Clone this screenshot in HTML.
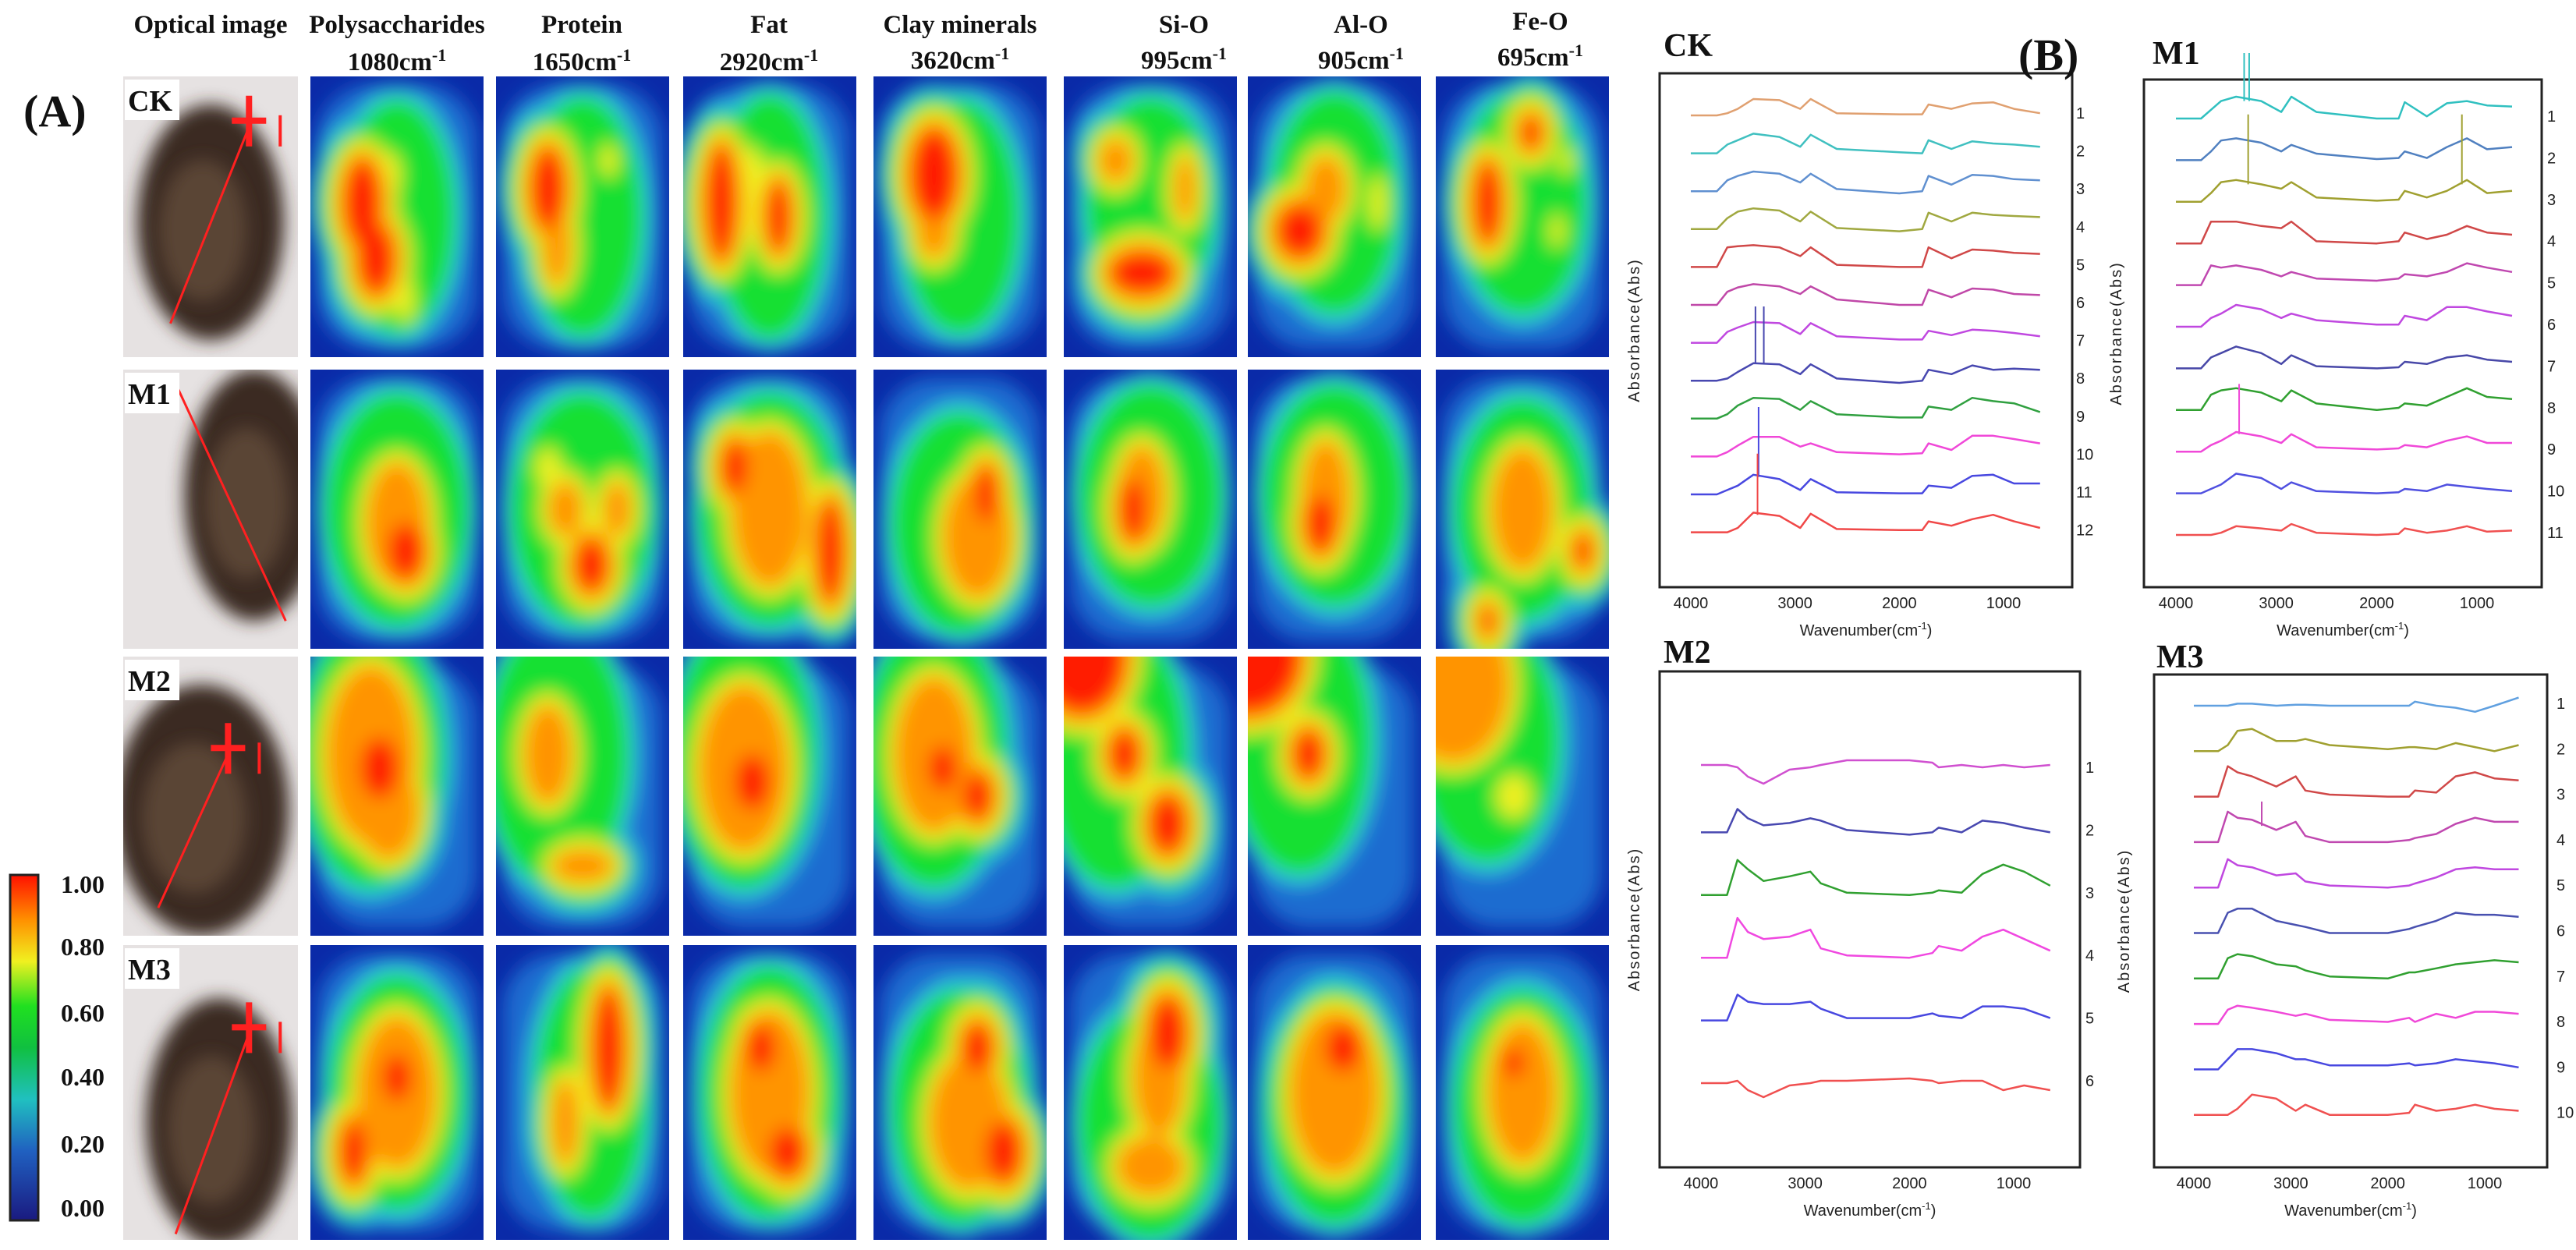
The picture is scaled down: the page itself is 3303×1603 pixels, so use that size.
<!DOCTYPE html>
<html><head><meta charset="utf-8"><style>
html,body{margin:0;padding:0;background:#fff;width:3303px;height:1603px;overflow:hidden}
svg{display:block;overflow:hidden}
.hd{font-family:"Liberation Serif",serif;font-weight:bold;font-size:33px;fill:#111}
.ttl{font-family:"Liberation Serif",serif;font-weight:bold;fill:#111}
.ax{font-family:"Liberation Sans",sans-serif;font-size:20px;fill:#222}
</style></head><body>
<svg id="fig" width="3303" height="1603" viewBox="0 0 3303 1603" xmlns="http://www.w3.org/2000/svg">
<defs>
<filter id="blur" x="-30%" y="-30%" width="160%" height="160%"><feGaussianBlur stdDeviation="11"/></filter>
<filter id="blur2" x="-30%" y="-30%" width="160%" height="160%"><feGaussianBlur stdDeviation="12"/></filter>
<linearGradient id="cbar" x1="0" y1="1" x2="0" y2="0">
<stop offset="0" stop-color="#1a1a80"/><stop offset="0.2" stop-color="#2060c0"/><stop offset="0.35" stop-color="#20c0c0"/><stop offset="0.5" stop-color="#10c040"/><stop offset="0.62" stop-color="#20e020"/><stop offset="0.75" stop-color="#f0f020"/><stop offset="0.87" stop-color="#ff9000"/><stop offset="1" stop-color="#ff1000"/>
</linearGradient>
</defs>
<text class="ttl" x="30" y="162" font-size="58">(A)</text>
<g>
<text class="hd" x="270" y="42" text-anchor="middle">Optical image</text>
<text class="hd" x="509" y="42" text-anchor="middle">Polysaccharides</text>
<text class="hd" x="509" y="90" text-anchor="middle">1080cm<tspan dy="-12" font-size="22">-1</tspan></text>
<text class="hd" x="746" y="42" text-anchor="middle">Protein</text>
<text class="hd" x="746" y="90" text-anchor="middle">1650cm<tspan dy="-12" font-size="22">-1</tspan></text>
<text class="hd" x="986" y="42" text-anchor="middle">Fat</text>
<text class="hd" x="986" y="90" text-anchor="middle">2920cm<tspan dy="-12" font-size="22">-1</tspan></text>
<text class="hd" x="1231" y="42" text-anchor="middle">Clay minerals</text>
<text class="hd" x="1231" y="88" text-anchor="middle">3620cm<tspan dy="-12" font-size="22">-1</tspan></text>
<text class="hd" x="1518" y="42" text-anchor="middle">Si-O</text>
<text class="hd" x="1518" y="88" text-anchor="middle">995cm<tspan dy="-12" font-size="22">-1</tspan></text>
<text class="hd" x="1745" y="42" text-anchor="middle">Al-O</text>
<text class="hd" x="1745" y="88" text-anchor="middle">905cm<tspan dy="-12" font-size="22">-1</tspan></text>
<text class="hd" x="1975" y="38" text-anchor="middle">Fe-O</text>
<text class="hd" x="1975" y="84" text-anchor="middle">695cm<tspan dy="-12" font-size="22">-1</tspan></text>
</g>
<g>
<rect x="13" y="1122" width="36" height="443" fill="url(#cbar)" stroke="#222" stroke-width="3"/>
<text class="ttl" x="78" y="1145" font-size="32" font-weight="normal">1.00</text>
<text class="ttl" x="78" y="1225" font-size="32" font-weight="normal">0.80</text>
<text class="ttl" x="78" y="1310" font-size="32" font-weight="normal">0.60</text>
<text class="ttl" x="78" y="1392" font-size="32" font-weight="normal">0.40</text>
<text class="ttl" x="78" y="1478" font-size="32" font-weight="normal">0.20</text>
<text class="ttl" x="78" y="1560" font-size="32" font-weight="normal">0.00</text>
</g>
<g id="maps"></g>
<g id="spectra"></g>
<text class="ttl" x="2588" y="90" font-size="58">(B)</text>
</svg>
<script>
const NS='http://www.w3.org/2000/svg';
function mk(tag,attrs,parent){const e=document.createElementNS(NS,tag);for(const k in attrs)e.setAttribute(k,attrs[k]);parent.appendChild(e);return e;}

// ---------- Panel A data ----------
const samples=['CK','M1','M2','M3'];
const components=['polysaccharides','protein','fat','clay-minerals','si-o','al-o','fe-o'];
// colour levels: 1 cyan, 2 green, 3 yellow, 4 orange, 5 red
const levelColors=['#30c8e0','#18e030','#f0f020','#ff9400','#ff1a00'];
// blobs: [cx, cy, rx, ry, level(1..5)] in fractions of the cell
const blobsCK=[
[[0.5,0.5,0.34,0.42,2],[0.3,0.45,0.1,0.15,5],[0.38,0.65,0.1,0.12,5],[0.45,0.35,0.07,0.08,3],[0.55,0.8,0.05,0.08,3]],
[[0.5,0.5,0.35,0.43,2],[0.3,0.4,0.09,0.14,5],[0.35,0.6,0.08,0.15,4],[0.65,0.3,0.05,0.06,3]],
[[0.5,0.5,0.33,0.44,2],[0.22,0.45,0.08,0.2,5],[0.4,0.35,0.06,0.1,3],[0.55,0.5,0.06,0.12,5]],
[[0.5,0.5,0.35,0.42,2],[0.35,0.35,0.13,0.16,5],[0.35,0.55,0.1,0.1,4]],
[[0.5,0.45,0.38,0.38,2],[0.3,0.3,0.1,0.08,4],[0.45,0.7,0.18,0.07,5],[0.7,0.4,0.06,0.12,4]],
[[0.5,0.45,0.38,0.4,2],[0.3,0.55,0.13,0.09,5],[0.45,0.4,0.12,0.12,4],[0.75,0.45,0.05,0.1,3]],
[[0.5,0.45,0.38,0.4,2],[0.3,0.45,0.07,0.14,5],[0.55,0.2,0.05,0.05,5],[0.75,0.3,0.04,0.05,3],[0.7,0.55,0.04,0.06,3]]];
const blobsM1=[
[[0.5,0.5,0.42,0.42,2],[0.5,0.55,0.18,0.22,4],[0.55,0.65,0.1,0.1,5]],
[[0.5,0.5,0.42,0.42,2],[0.4,0.5,0.1,0.1,4],[0.55,0.7,0.09,0.09,5],[0.3,0.35,0.07,0.07,3],[0.7,0.5,0.08,0.1,4]],
[[0.5,0.5,0.42,0.42,2],[0.5,0.5,0.22,0.28,4],[0.85,0.65,0.07,0.18,5],[0.3,0.35,0.07,0.09,5]],
[[0.5,0.55,0.4,0.4,2],[0.6,0.6,0.2,0.22,4],[0.65,0.45,0.06,0.1,5]],
[[0.5,0.45,0.42,0.4,2],[0.45,0.45,0.14,0.18,4],[0.4,0.5,0.07,0.11,5]],
[[0.5,0.45,0.42,0.4,2],[0.45,0.45,0.14,0.2,4],[0.42,0.55,0.08,0.1,5]],
[[0.5,0.5,0.4,0.4,2],[0.5,0.5,0.18,0.22,4],[0.85,0.65,0.04,0.05,5],[0.3,0.9,0.03,0.04,5]]];
const blobsM2=[
[[0.35,0.35,0.42,0.48,2],[0.35,0.35,0.26,0.32,4],[0.45,0.55,0.18,0.18,4],[0.4,0.4,0.11,0.11,5]],
[[0.35,0.35,0.42,0.48,2],[0.3,0.35,0.14,0.18,4],[0.5,0.75,0.18,0.06,4]],
[[0.35,0.35,0.42,0.48,2],[0.35,0.4,0.26,0.3,4],[0.4,0.45,0.1,0.1,5]],
[[0.35,0.35,0.42,0.48,2],[0.35,0.35,0.23,0.28,4],[0.4,0.4,0.08,0.08,5],[0.6,0.5,0.08,0.08,5]],
[[0.3,0.35,0.42,0.48,2],[0.1,0.0,0.25,0.2,5],[0.35,0.35,0.08,0.08,5],[0.6,0.6,0.1,0.1,5]],
[[0.3,0.3,0.42,0.48,2],[0.0,0.0,0.3,0.2,5],[0.35,0.35,0.08,0.08,5]],
[[0.3,0.3,0.42,0.44,2],[0.1,0.1,0.33,0.28,4],[0.45,0.5,0.1,0.08,3]]];
const blobsM3=[
[[0.5,0.5,0.4,0.4,2],[0.5,0.5,0.23,0.26,4],[0.5,0.45,0.08,0.08,5],[0.25,0.7,0.07,0.1,5]],
[[0.55,0.5,0.33,0.43,2],[0.65,0.35,0.08,0.2,5],[0.4,0.6,0.08,0.15,4]],
[[0.5,0.5,0.4,0.43,2],[0.5,0.5,0.23,0.28,4],[0.45,0.35,0.08,0.08,5],[0.6,0.7,0.1,0.08,5]],
[[0.5,0.55,0.4,0.4,2],[0.55,0.6,0.23,0.23,4],[0.6,0.35,0.08,0.08,5],[0.75,0.7,0.1,0.1,5]],
[[0.5,0.6,0.42,0.4,2],[0.55,0.45,0.15,0.2,4],[0.6,0.3,0.1,0.12,5],[0.5,0.75,0.2,0.1,4]],
[[0.5,0.55,0.4,0.4,2],[0.5,0.5,0.26,0.28,4],[0.55,0.35,0.1,0.08,5]],
[[0.5,0.55,0.4,0.4,2],[0.5,0.5,0.2,0.24,4],[0.45,0.4,0.06,0.05,5]]];
const allBlobs=[blobsCK,blobsM1,blobsM2,blobsM3];

const colX=[398,636,876,1120,1364,1600,1841];
const cellW=222;
const rowY=[98,474,842,1212];
const rowH=[360,358,358,378];
const optX=158, optW=224;
const optLines=[[0.72,0.18,0.27,0.88],[0.3,0.05,0.93,0.9],[0.6,0.35,0.2,0.9],[0.72,0.3,0.3,0.98]];
const optBodies=[[0.5,0.52,0.42,0.42],[0.75,0.45,0.4,0.45],[0.45,0.55,0.5,0.45],[0.55,0.6,0.42,0.42]];

const maps=document.getElementById('maps');
samples.forEach((s,r)=>{
  const y=rowY[r],h=rowH[r];
  const og=mk('g',{},maps);
  
  
  const cpo=mk('clipPath',{id:'co'+r},og);mk('rect',{x:optX,y:y,width:optW,height:h},cpo);
  const oin=mk('g',{'clip-path':'url(#co'+r+')'},og);
  mk('rect',{x:optX,y:y,width:optW,height:h,fill:'#e6e2e2'},oin);
  const b=optBodies[r];
  mk('ellipse',{cx:optX+b[0]*optW,cy:y+b[1]*h,rx:b[2]*optW,ry:b[3]*h,fill:'#3b2c22',filter:'url(#blur)'},oin);
  mk('ellipse',{cx:optX+b[0]*optW-10,cy:y+b[1]*h+10,rx:b[2]*optW*0.6,ry:b[3]*h*0.6,fill:'#5a4535',filter:'url(#blur)'},oin);
  const L=optLines[r];
  mk('line',{x1:optX+L[0]*optW,y1:y+L[1]*h,x2:optX+L[2]*optW,y2:y+L[3]*h,stroke:'#ff2020','stroke-width':3},oin);
  const cx=optX+L[0]*optW, cy=y+L[1]*h;
  if(r!==1){
    mk('line',{x1:cx-22,y1:cy-8,x2:cx+22,y2:cy-8,stroke:'#ff2020','stroke-width':8},oin);
    mk('line',{x1:cx,y1:cy-40,x2:cx,y2:cy+25,stroke:'#ff2020','stroke-width':8},oin);
    mk('line',{x1:cx+40,y1:cy-15,x2:cx+40,y2:cy+25,stroke:'#ff2020','stroke-width':4},oin);
  }
  mk('rect',{x:optX+2,y:y+4,width:70,height:52,fill:'#fff'},oin);
  const lt=mk('text',{x:optX+6,y:y+44,class:'ttl','font-size':38},og);
  lt.textContent=s;
  
  
  components.forEach((c,k)=>{
    const x=colX[k];
    const g=mk('g',{},maps);
    
    
    const cp=mk('clipPath',{id:'c'+r+'_'+k},g);mk('rect',{x:x,y:y,width:cellW,height:h},cp);
    const inner=mk('g',{'clip-path':'url(#c'+r+'_'+k+')'},g);
    mk('rect',{x:x,y:y,width:cellW,height:h,fill:'#0a2aa8'},inner);
    const bg=mk('g',{filter:'url(#blur2)'},inner);
    mk('rect',{x:x+cellW*0.04,y:y+h*0.03,width:cellW*0.92,height:h*0.94,rx:70,fill:'#1a6cd0'},bg);
    const blobs=allBlobs[r][k];
    for(let lev=1;lev<=5;lev++){
      blobs.forEach(bl=>{
        if(bl[4]<lev)return;
        const ext=(bl[4]-lev)*0.05;
        mk('ellipse',{cx:x+bl[0]*cellW,cy:y+bl[1]*h,rx:(bl[2]+ext)*cellW,ry:(bl[3]+ext*0.8)*h,fill:levelColors[lev-1]},bg);
      });
    }
  });
});

// ---------- Panel B data ----------
const wavenumbers=[4000,3750,3650,3550,3400,3150,2950,2850,2600,2000,1780,1720,1500,1300,1100,900,650];
const xTicks=[4000,3000,2000,1000];
const specCK=[
[0,0,0.1,0.3,0.75,0.7,0.3,0.75,0.1,0.05,0.05,0.5,0.3,0.55,0.6,0.3,0.1],
[0,0,0.4,0.6,0.9,0.75,0.3,0.85,0.2,0.05,0,0.6,0.2,0.55,0.45,0.4,0.3],
[0,0,0.5,0.7,0.9,0.8,0.4,0.8,0.1,-0.1,0,0.7,0.3,0.75,0.7,0.55,0.5],
[0,0,0.5,0.8,0.95,0.85,0.35,0.8,0.05,-0.1,0,0.75,0.35,0.75,0.65,0.6,0.55],
[0,0,0.9,0.95,1.0,0.9,0.5,0.9,0.1,0,0,0.9,0.4,0.8,0.75,0.65,0.6],
[0,0,0.6,0.8,0.95,0.85,0.5,0.85,0.25,0,0,0.7,0.35,0.75,0.7,0.5,0.45],
[0,0,0.5,0.7,0.95,0.9,0.4,0.9,0.3,0.15,0.15,0.55,0.35,0.6,0.55,0.45,0.3],
[0,0,0.1,0.4,0.8,0.75,0.3,0.75,0.1,-0.1,0,0.5,0.3,0.7,0.5,0.55,0.5],
[0,0,0.2,0.6,0.95,0.9,0.4,0.8,0.2,0.05,0.05,0.55,0.4,0.95,0.8,0.7,0.3],
[0,0,0.2,0.5,0.9,0.9,0.45,0.6,0.2,0.1,0.15,0.6,0.3,0.95,0.95,0.8,0.6],
[0,0,0.2,0.4,0.9,0.7,0.2,0.7,0.1,0.05,0.05,0.4,0.3,0.85,0.9,0.5,0.5],
[0,0,0,0.2,0.9,0.75,0.2,0.85,0.15,0.1,0.1,0.5,0.3,0.6,0.8,0.5,0.2]];
const specM1=[
[0,0,0.4,0.8,1.0,0.8,0.3,1.0,0.3,0,0,0.75,0.1,0.7,0.8,0.6,0.55],
[0,0,0.4,0.9,1.0,0.8,0.4,0.7,0.3,0.05,0.1,0.4,0.1,0.6,1.0,0.5,0.6],
[0,0,0.4,0.9,1.0,0.8,0.6,0.9,0.2,0.05,0.1,0.5,0.2,0.5,1.0,0.4,0.5],
[0,0,1.0,1.0,1.0,0.8,0.7,1.0,0.1,0,0.1,0.5,0.2,0.4,0.8,0.5,0.4],
[0,0,0.9,0.8,0.9,0.7,0.4,0.6,0.3,0.2,0.3,0.5,0.4,0.6,1.0,0.8,0.6],
[0,0,0.4,0.6,1.0,0.8,0.4,0.6,0.3,0.1,0.1,0.5,0.3,0.9,0.9,0.7,0.5],
[0,0,0.5,0.7,1.0,0.7,0.2,0.6,0.1,0,0.05,0.3,0.2,0.5,0.6,0.4,0.3],
[0,0,0.7,0.9,1.0,0.8,0.4,0.9,0.3,0,0.1,0.3,0.2,0.6,1.0,0.6,0.5],
[0,0,0.3,0.5,0.9,0.7,0.4,0.8,0.2,0.1,0.15,0.3,0.2,0.5,0.7,0.4,0.4],
[0,0,0.2,0.4,0.9,0.7,0.2,0.5,0.1,0,0.05,0.2,0.1,0.4,0.3,0.2,0.1],
[0,0,0,0.1,0.4,0.3,0.2,0.5,0.1,0,0.05,0.3,0.1,0.2,0.4,0.15,0.2]];
const specM2=[
[0.2,0.2,0.1,-0.3,-0.6,0,0.1,0.2,0.4,0.4,0.3,0.1,0.2,0.1,0.2,0.1,0.2],
[0,0,1.0,0.6,0.3,0.4,0.6,0.5,0.1,-0.1,0,0.2,0,0.5,0.4,0.2,0],
[0,0,1.5,1.1,0.6,0.8,1.0,0.5,0.1,0,0.1,0.2,0.1,0.9,1.3,1.0,0.4],
[0,0,1.7,1.1,0.8,0.9,1.2,0.4,0.1,0,0.2,0.5,0.3,0.9,1.2,0.8,0.3],
[0,0,1.1,0.8,0.7,0.7,0.8,0.5,0.1,0.1,0.3,0.2,0.1,0.6,0.6,0.5,0.1],
[0,0,0.1,-0.3,-0.6,-0.1,0,0.1,0.1,0.2,0.1,0,0.1,0.1,-0.3,-0.1,-0.3]];
const specM3=[
[0,0,0,0.1,0.1,0,0.05,0.05,0,0,0,0.2,0,-0.1,-0.3,0,0.4],
[0,0,0.3,1.0,1.1,0.5,0.5,0.6,0.3,0.1,0.2,0.2,0.1,0.4,0.2,0,0.3],
[0,0,1.5,1.2,1.0,0.5,1.0,0.3,0.1,0,0,0.3,0.2,1.0,1.2,0.9,0.8],
[0,0,1.5,1.2,1.1,0.6,1.0,0.3,0,0,0.1,0.2,0.4,0.9,1.2,1.0,1.0],
[0,0,1.4,1.1,1.0,0.6,0.7,0.3,0.1,0,0.1,0.2,0.5,0.9,1.0,0.9,0.9],
[0,0,1.0,1.2,1.2,0.6,0.4,0.3,0,0,0.2,0.3,0.6,1.0,0.9,0.9,0.8],
[0,0,1.0,1.2,1.1,0.7,0.6,0.4,0.1,0,0.3,0.3,0.5,0.7,0.8,0.9,0.8],
[0,0,0.7,0.9,0.8,0.6,0.4,0.5,0.2,0.1,0.3,0.1,0.5,0.3,0.6,0.6,0.5],
[0,0,0.5,1.0,1.0,0.8,0.5,0.5,0.2,0.2,0.3,0.2,0.3,0.5,0.4,0.3,0.1],
[0,0,0,0.3,1.0,0.8,0.2,0.5,0,0,0.1,0.5,0.2,0.3,0.5,0.3,0.2]];
const spikesCK=[[7,3380,2.6],[7,3300,2.6],[10,3350,3.2],[11,3360,2.8]];
const spikesM1=[[0,3320,2.2],[0,3270,2.2],[2,3280,3.2],[2,1150,3.2],[8,3370,2.3]];
const spikesM2=[];
const spikesM3=[[3,3300,1.2]];
const colorsCK=['#e0a070','#40c0c0','#6090d0','#a0a840','#d04848','#c048a8','#c048e0','#4848b0','#30a040','#f048d8','#4848e0','#f04848'];
const colorsM1=['#30c0c0','#5080c0','#a0a030','#d04848','#c048b0','#c048e0','#4848a8','#30a030','#f048d8','#5050e0','#f05050'];
const colorsM2=['#d050d0','#4848b0','#30a030','#f048e0','#4848e0','#f05050'];
const colorsM3=['#60a0e0','#a0a030','#d04848','#c048b0','#c048e0','#4850b0','#30a030','#f048d8','#4848e0','#f05050'];

const panels=[
 {name:'ck',title:'CK',box:[2128,94,2657,753],x4000:2168,x1000:2569,y0:148,dy:48.6,amp:28,lx:2662,data:specCK,colors:colorsCK,spikes:spikesCK,tx:2133,ty:72,ylx:2102},
 {name:'m1',title:'M1',box:[2749,102,3259,753],x4000:2790,x1000:3176,y0:152,dy:53.4,amp:28,lx:3266,data:specM1,colors:colorsM1,spikes:spikesM1,tx:2760,ty:82,ylx:2720},
 {name:'m2',title:'M2',box:[2128,861,2667,1497],x4000:2181,x1000:2582,y0:987,dy:80.4,amp:30,lx:2674,data:specM2,colors:colorsM2,spikes:spikesM2,tx:2133,ty:850,ylx:2102},
 {name:'m3',title:'M3',box:[2762,865,3266,1497],x4000:2813,x1000:3186,y0:905,dy:58.3,amp:26,lx:3278,data:specM3,colors:colorsM3,spikes:spikesM3,tx:2765,ty:856,ylx:2730}];

const sp=document.getElementById('spectra');
panels.forEach(p=>{
  const g=mk('g',{},sp);
  
  
  const xs=w=>p.x4000+(4000-w)*(p.x1000-p.x4000)/3000;
  const ys=(i,v)=>p.y0+i*p.dy-v*p.amp;
  const [x1,y1,x2,y2]=p.box;
  const frame=mk('path',{d:`M${x1},${y1}H${x2}V${y2}H${x1}Z`,fill:'none',stroke:'#222','stroke-width':3},g);
  
  
  const t=mk('text',{x:p.tx,y:p.ty,class:'ttl','font-size':42},g);t.textContent=p.title;
  
  
  xTicks.forEach(v=>{
    const tt=mk('text',{x:xs(v),y:y2+27,class:'ax','text-anchor':'middle'},g);tt.textContent=v;
    
    
  });
  const xl=mk('text',{x:(x1+x2)/2,y:y2+62,class:'ax','text-anchor':'middle'},g);
  xl.innerHTML='Wavenumber(cm<tspan dy="-8" font-size="13">-1</tspan><tspan dy="8">)</tspan>';
  
  
  const yl=mk('text',{x:0,y:0,class:'ax','text-anchor':'middle',transform:`translate(${p.ylx},${(y1+y2)/2}) rotate(-90)`,'font-size':22,'letter-spacing':'2'},g);
  yl.textContent='Absorbance(Abs)';
  
  
  p.data.forEach((vals,i)=>{
    const d=vals.map((v,j)=>(j?'L':'M')+xs(wavenumbers[j]).toFixed(1)+','+ys(i,v).toFixed(1)).join(' ');
    const pl=mk('path',{d:d,fill:'none',stroke:p.colors[i],'stroke-width':2.5,'stroke-linejoin':'round'},g);
    
    
    const lb=mk('text',{x:p.lx,y:ys(i,0)+4,class:'ax','font-size':22},g);lb.textContent=(i+1);
    
    
  });
  p.spikes.forEach(s=>{
    const i=s[0];
    const sx=xs(s[1]);
    const base=ys(i,0.8);
    const sl=mk('line',{x1:sx,y1:base,x2:sx,y2:base-s[2]*p.amp,stroke:p.colors[i],'stroke-width':2},g);
    
    
  });
});
</script>
</body></html>
